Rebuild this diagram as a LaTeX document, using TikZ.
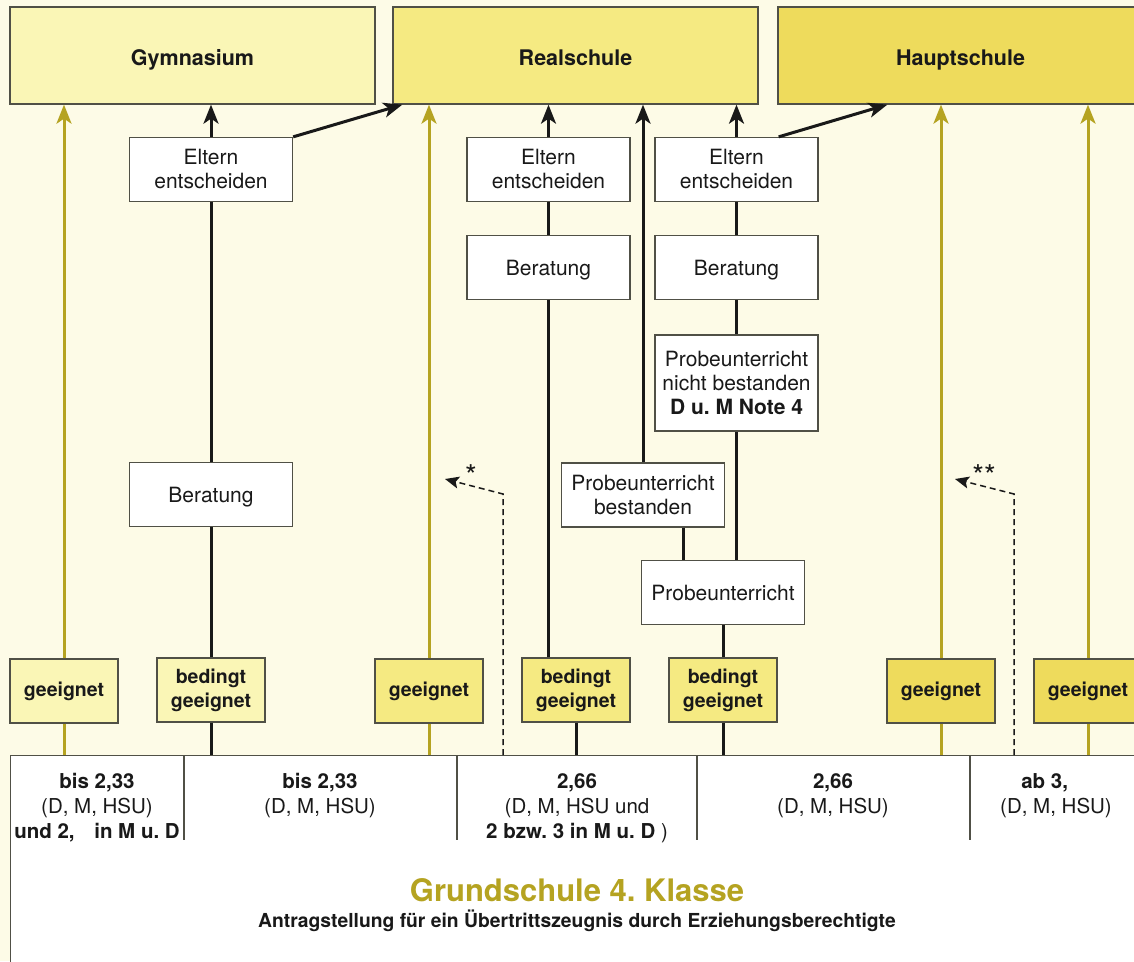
\documentclass[tikz,border=0pt]{standalone}
\usepackage{fontspec}
\setmainfont{TeX Gyre Heros}
\usepackage{xcolor}
\usepackage{tikz}
\usetikzlibrary{arrows.meta, positioning}
\frenchspacing

\definecolor{cream}{RGB}{253,251,231}
\definecolor{gymcol}{RGB}{250,246,182}
\definecolor{realcol}{RGB}{245,234,130}
\definecolor{hauptcol}{RGB}{238,219,92}
\definecolor{olive}{RGB}{181,163,33}
\definecolor{frame}{RGB}{80,80,70}
\definecolor{ink}{RGB}{25,25,25}

\begin{document}
\begin{tikzpicture}[
    x=1pt, y=-1pt,
    % Setting up styles here keeps the drawing code clean
    school/.style = {rectangle, draw=frame, line width=1.3pt, minimum width=365pt, minimum height=97pt, text height=19pt, text depth=0pt, text=ink, font=\fontsize{21.5}{24}\selectfont\bfseries},
    grade/.style  = {rectangle, draw=frame, line width=1.3pt, minimum width=108pt, minimum height=64pt, inner sep=0pt, align=center, text=ink, font=\fontsize{19.5}{24}\selectfont\bfseries},
    infobox/.style = {rectangle, draw=frame, fill=white, line width=1.3pt, minimum width=163pt, minimum height=64pt, inner sep=0pt, align=center, text=ink, font=\fontsize{21}{24}\selectfont},
    cell/.style   = {anchor=north, inner sep=0pt, align=center, text=ink, font=\fontsize{20.5}{25}\selectfont},
    conn/.style   = {line width=3pt, draw=ink},
    arrow/.style  = {conn, -{Stealth[length=19pt, width=15pt, inset=5pt]}},
    oline/.style  = {line width=3pt, draw=olive},
    oarrow/.style = {oline, -{Stealth[length=19pt, width=15pt, inset=5pt]}},
    hint/.style   = {dash pattern=on 6pt off 4pt, line width=1.5pt, draw=ink, -{Stealth[length=14pt, width=12pt, inset=3pt]}},
    footmark/.style = {text=ink, inner sep=0pt, font=\fontsize{30}{30}\selectfont},
    rule/.style   = {line width=1.2pt, draw=frame}
]
    \useasboundingbox (0,0) rectangle (1134,961);
    \clip (0,0) rectangle (1134,961);
    \fill[cream] (0,0) rectangle (1134,961);

    % 1. School types at the top
    \node (gym)   [school, fill=gymcol]   at (192.5,55.5) {Gymnasium};
    \node (real)  [school, fill=realcol]  at (575.5,55.5) {Realschule};
    \node (haupt) [school, fill=hauptcol] at (960.5,55.5) {Hauptschule};

    % 2. Primary school panel with the grade table
    \node (grund) [draw=frame, fill=white, line width=1.3pt, anchor=north west, inner sep=0pt,
                   minimum width=1140pt, minimum height=240pt] at (10,755) {};
    \foreach \cx in {184,457,697,970}
        \draw[rule] (\cx,755) -- (\cx,840);
    \node (c1) [cell] at (97,773)   {\textbf{bis 2,33}\\(D, M, HSU)\\\textbf{und 2, \hspace{14pt}in M u. D}};
    \node (c2) [cell] at (320,773)  {\textbf{bis 2,33}\\(D, M, HSU)};
    \node (c3) [cell] at (577,773)  {\textbf{2,66}\\(D, M, HSU und\\\textbf{2 bzw. 3 in M u. D} )};
    \node (c4) [cell] at (833,773)  {\textbf{2,66}\\(D, M, HSU)};
    \node (c5) [cell] at (1056,773) {\textbf{ab 3,\phantom{00}}\\(D, M, HSU)};
    \node (title) [text=olive, font=\fontsize{31}{34}\selectfont\bfseries] at (577,890) {Grundschule 4. Klasse};
    \node (sub) [text=ink, font=\fontsize{19.3}{22}\selectfont\bfseries] at (577,921)
        {Antragstellung für ein Übertrittszeugnis durch Erziehungsberechtigte};

    % 3. Assessment boxes
    \node (g1) [grade, fill=gymcol]   at (64,691)   {geeignet};
    \node (b1) [grade, fill=gymcol]   at (211,690)  {bedingt\\geeignet};
    \node (g2) [grade, fill=realcol]  at (429,691)  {geeignet};
    \node (b2) [grade, fill=realcol]  at (576,690)  {bedingt\\geeignet};
    \node (b3) [grade, fill=realcol]  at (723,690)  {bedingt\\geeignet};
    \node (g3) [grade, fill=hauptcol] at (941,691)  {geeignet};
    \node (g4) [grade, fill=hauptcol] at (1088,691) {geeignet};

    % 4. Steps in between
    \node (el1)  [infobox] at (211,169.5) {Eltern\\entscheiden};
    \node (ber1) [infobox, text depth=0pt] at (211,494.5) {Beratung};
    \node (el2)  [infobox] at (548.5,169.5) {Eltern\\entscheiden};
    \node (ber2) [infobox, text depth=0pt] at (548.5,267.5) {Beratung};
    \node (el3)  [infobox] at (736.5,169.5) {Eltern\\entscheiden};
    \node (ber3) [infobox, text depth=0pt, below=33pt of el3] {Beratung};
    \node (nb)   [infobox, below=34pt of ber3, minimum height=96pt] {Probeunterricht\\nicht bestanden\\\textbf{D u. M Note 4}};
    \node (pb)   [infobox] at (643,495) {Probeunterricht\\bestanden};
    \node (pu)   [infobox] at (723,592.5) {Probeunterricht};

    % 5. Direct paths (olive)
    \foreach \g/\s in {g1/gym, g2/real, g3/haupt, g4/haupt} {
        \draw[oarrow] (\g.north) -- (\g.north |- \s.south);
        \draw[oline]  (\g.south) -- (\g.south |- grund.north);
    }

    % 6. Conditional paths
    \draw[conn]  (b1.south) -- (b1.south |- grund.north);
    \draw[conn]  (b1) -- (ber1);
    \draw[conn]  (ber1) -- (el1);
    \draw[arrow] (el1) -- (el1 |- gym.south);
    \draw[arrow] (el1.north east) -- ([xshift=10pt]real.south west);

    \draw[conn]  (b2.south) -- (b2.south |- grund.north);
    \draw[conn]  (ber2.south |- b2.north) -- (ber2);
    \draw[conn]  (ber2) -- (el2);
    \draw[arrow] (el2) -- (el2 |- real.south);

    \draw[conn]  (b3.south) -- (b3.south |- grund.north);
    \draw[conn]  (pu) -- (b3);
    \draw[conn]  ([xshift=40pt]pb.south) -- ([xshift=40pt]pb.south |- pu.north);
    \draw[arrow] (pb) -- (pb |- real.south);
    \draw[conn]  (nb.south |- pu.north) -- (nb);
    \draw[conn]  (nb) -- (ber3);
    \draw[conn]  (ber3) -- (el3);
    \draw[arrow] (el3) -- (el3 |- real.south);
    \draw[arrow] ([xshift=-40pt]el3.north east) -- ([xshift=110pt]haupt.south west);

    % 7. Dashed hints with footnote marks
    \coordinate (k1) at (503,494);
    \coordinate (t1) at (445,479);
    \coordinate (k2) at (1014,494);
    \coordinate (t2) at (955,479);
    \draw[hint] (k1 |- grund.north) -- (k1) -- (t1);
    \draw[hint] (k2 |- grund.north) -- (k2) -- (t2);
    \node (s1) [footmark] at (471,476) {*};
    \node (s2) [footmark] at (984,476) {**};

\end{tikzpicture}
\end{document}
